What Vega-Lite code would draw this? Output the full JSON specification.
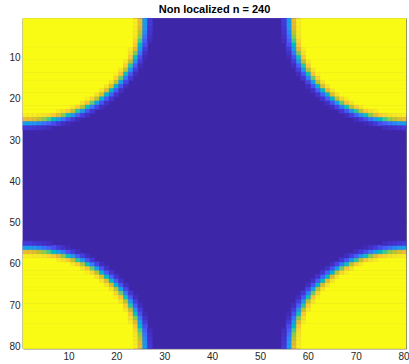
{
"$schema": "https://vega.github.io/schema/vega-lite/v6.json",
"width": 383,
"height": 330,
"autosize": "none",
"padding": {"left": 23, "top": 18.5, "right": 3, "bottom": 15.5},
"background": "white",
"title": {"text": "Non localized n = 240", "font": "Liberation Sans", "fontSize": 11, "fontWeight": "bold", "color": "#000000", "offset": 3, "anchor": "middle", "frame": "group"},
"config": {"view": {"stroke": null}},
"resolve": {"axis": {"x": "independent", "y": "independent"}},
"layer": [
{
"data": {"values": [
{"x1":0.5,"x2":80.5,"y1":0.5,"y2":80.5,"v":0},
{"x1":0.5,"x2":23.5,"y1":0.5,"y2":7.5,"v":1},{"x1":58.5,"x2":80.5,"y1":0.5,"y2":7.5,"v":1},
{"x1":0.5,"x2":22.5,"y1":7.5,"y2":10.5,"v":1},{"x1":59.5,"x2":80.5,"y1":7.5,"y2":10.5,"v":1},
{"x1":0.5,"x2":21.5,"y1":10.5,"y2":12.5,"v":1},{"x1":60.5,"x2":80.5,"y1":10.5,"y2":12.5,"v":1},
{"x1":0.5,"x2":20.5,"y1":12.5,"y2":13.5,"v":1},{"x1":61.5,"x2":80.5,"y1":12.5,"y2":13.5,"v":1},
{"x1":0.5,"x2":19.5,"y1":13.5,"y2":15.5,"v":1},{"x1":62.5,"x2":80.5,"y1":13.5,"y2":15.5,"v":1},
{"x1":0.5,"x2":18.5,"y1":15.5,"y2":16.5,"v":1},{"x1":63.5,"x2":80.5,"y1":15.5,"y2":16.5,"v":1},
{"x1":0.5,"x2":17.5,"y1":16.5,"y2":17.5,"v":1},{"x1":64.5,"x2":80.5,"y1":16.5,"y2":17.5,"v":1},
{"x1":0.5,"x2":16.5,"y1":17.5,"y2":18.5,"v":1},{"x1":65.5,"x2":80.5,"y1":17.5,"y2":18.5,"v":1},
{"x1":0.5,"x2":15.5,"y1":18.5,"y2":19.5,"v":1},{"x1":66.5,"x2":80.5,"y1":18.5,"y2":19.5,"v":1},
{"x1":0.5,"x2":13.5,"y1":19.5,"y2":20.5,"v":1},{"x1":68.5,"x2":80.5,"y1":19.5,"y2":20.5,"v":1},
{"x1":0.5,"x2":12.5,"y1":20.5,"y2":21.5,"v":1},{"x1":69.5,"x2":80.5,"y1":20.5,"y2":21.5,"v":1},
{"x1":0.5,"x2":10.5,"y1":21.5,"y2":22.5,"v":1},{"x1":71.5,"x2":80.5,"y1":21.5,"y2":22.5,"v":1},
{"x1":0.5,"x2":7.5,"y1":22.5,"y2":23.5,"v":1},{"x1":74.5,"x2":80.5,"y1":22.5,"y2":23.5,"v":1},
{"x1":0.5,"x2":23.5,"y1":74.5,"y2":80.5,"v":1},{"x1":58.5,"x2":80.5,"y1":74.5,"y2":80.5,"v":1},
{"x1":0.5,"x2":22.5,"y1":71.5,"y2":74.5,"v":1},{"x1":59.5,"x2":80.5,"y1":71.5,"y2":74.5,"v":1},
{"x1":0.5,"x2":21.5,"y1":69.5,"y2":71.5,"v":1},{"x1":60.5,"x2":80.5,"y1":69.5,"y2":71.5,"v":1},
{"x1":0.5,"x2":20.5,"y1":68.5,"y2":69.5,"v":1},{"x1":61.5,"x2":80.5,"y1":68.5,"y2":69.5,"v":1},
{"x1":0.5,"x2":19.5,"y1":66.5,"y2":68.5,"v":1},{"x1":62.5,"x2":80.5,"y1":66.5,"y2":68.5,"v":1},
{"x1":0.5,"x2":18.5,"y1":65.5,"y2":66.5,"v":1},{"x1":63.5,"x2":80.5,"y1":65.5,"y2":66.5,"v":1},
{"x1":0.5,"x2":17.5,"y1":64.5,"y2":65.5,"v":1},{"x1":64.5,"x2":80.5,"y1":64.5,"y2":65.5,"v":1},
{"x1":0.5,"x2":16.5,"y1":63.5,"y2":64.5,"v":1},{"x1":65.5,"x2":80.5,"y1":63.5,"y2":64.5,"v":1},
{"x1":0.5,"x2":15.5,"y1":62.5,"y2":63.5,"v":1},{"x1":66.5,"x2":80.5,"y1":62.5,"y2":63.5,"v":1},
{"x1":0.5,"x2":13.5,"y1":61.5,"y2":62.5,"v":1},{"x1":68.5,"x2":80.5,"y1":61.5,"y2":62.5,"v":1},
{"x1":0.5,"x2":12.5,"y1":60.5,"y2":61.5,"v":1},{"x1":69.5,"x2":80.5,"y1":60.5,"y2":61.5,"v":1},
{"x1":0.5,"x2":10.5,"y1":59.5,"y2":60.5,"v":1},{"x1":71.5,"x2":80.5,"y1":59.5,"y2":60.5,"v":1},
{"x1":0.5,"x2":7.5,"y1":58.5,"y2":59.5,"v":1},{"x1":74.5,"x2":80.5,"y1":58.5,"y2":59.5,"v":1}
]},
"mark": {"type": "rect", "strokeWidth": 0.8},
"encoding": {
"x": {"field": "x1", "type": "quantitative", "scale": {"domain": [0.5, 80.5], "nice": false, "zero": false},
 "axis": {"orient": "bottom", "title": null, "values": [10,20,30,40,50,60,70,80], "grid": false, "tickSize": -4, "tickWidth": 0.6, "tickColor": "#262626", "domainColor": "#262626", "domainWidth": 0.6, "labelFont": "Liberation Sans", "labelFontSize": 10, "labelColor": "#262626", "labelPadding": 7}},
"x2": {"field": "x2"},
"y": {"field": "y1", "type": "quantitative", "scale": {"domain": [0.5, 80.5], "nice": false, "zero": false, "reverse": true},
 "axis": {"orient": "left", "title": null, "values": [10,20,30,40,50,60,70,80], "grid": false, "tickSize": -4, "tickWidth": 0.6, "tickColor": "#262626", "domainColor": "#262626", "domainWidth": 0.6, "labelFont": "Liberation Sans", "labelFontSize": 10, "labelColor": "#262626", "labelPadding": 7}},
"y2": {"field": "y2"},
"color": {"field": "v", "type": "quantitative", "legend": null, "scale": {"domain": [0,0.0625,0.125,0.1875,0.25,0.3125,0.375,0.4375,0.5,0.5625,0.625,0.6875,0.75,0.8125,0.875,0.9375,1], "range": ["#3E26A8","#4537D5","#484DF0","#4563FD","#327CFC","#2B91EF","#20A5E3","#08B5D0","#12BEB9","#34C79C","#5CCC76","#93CA4A","#C8C129","#F1BA37","#FEC934","#F5E327","#F9FB15"]}},
"stroke": {"field": "v", "type": "quantitative", "legend": null, "scale": {"domain": [0,0.0625,0.125,0.1875,0.25,0.3125,0.375,0.4375,0.5,0.5625,0.625,0.6875,0.75,0.8125,0.875,0.9375,1], "range": ["#3E26A8","#4537D5","#484DF0","#4563FD","#327CFC","#2B91EF","#20A5E3","#08B5D0","#12BEB9","#34C79C","#5CCC76","#93CA4A","#C8C129","#F1BA37","#FEC934","#F5E327","#F9FB15"]}}
}
},
{
"data": {"values": [
{"c":24,"r":1,"v":0.97},{"c":25,"r":1,"v":0.80},{"c":26,"r":1,"v":0.35},{"c":27,"r":1,"v":0.07},
{"c":24,"r":2,"v":0.97},{"c":25,"r":2,"v":0.80},{"c":26,"r":2,"v":0.35},{"c":27,"r":2,"v":0.07},
{"c":24,"r":3,"v":0.96},{"c":25,"r":3,"v":0.78},{"c":26,"r":3,"v":0.32},{"c":27,"r":3,"v":0.06},
{"c":24,"r":4,"v":0.95},{"c":25,"r":4,"v":0.73},{"c":26,"r":4,"v":0.28},{"c":27,"r":4,"v":0.05},
{"c":24,"r":5,"v":0.94},{"c":25,"r":5,"v":0.68},{"c":26,"r":5,"v":0.22},{"c":27,"r":5,"v":0.04},
{"c":24,"r":6,"v":0.91},{"c":25,"r":6,"v":0.59},{"c":26,"r":6,"v":0.17},{"c":27,"r":6,"v":0.03},
{"c":24,"r":7,"v":0.87},{"c":25,"r":7,"v":0.48},{"c":26,"r":7,"v":0.12},
{"c":23,"r":8,"v":0.96},{"c":24,"r":8,"v":0.79},{"c":25,"r":8,"v":0.35},{"c":26,"r":8,"v":0.07},
{"c":23,"r":9,"v":0.93},{"c":24,"r":9,"v":0.67},{"c":25,"r":9,"v":0.23},{"c":26,"r":9,"v":0.04},
{"c":23,"r":10,"v":0.87},{"c":24,"r":10,"v":0.50},{"c":25,"r":10,"v":0.13},{"c":26,"r":10,"v":0.02},
{"c":22,"r":11,"v":0.95},{"c":23,"r":11,"v":0.74},{"c":24,"r":11,"v":0.32},{"c":25,"r":11,"v":0.07},
{"c":22,"r":12,"v":0.88},{"c":23,"r":12,"v":0.55},{"c":24,"r":12,"v":0.17},{"c":25,"r":12,"v":0.03},
{"c":21,"r":13,"v":0.94},{"c":22,"r":13,"v":0.73},{"c":23,"r":13,"v":0.33},{"c":24,"r":13,"v":0.08},
{"c":20,"r":14,"v":0.97},{"c":21,"r":14,"v":0.85},{"c":22,"r":14,"v":0.50},{"c":23,"r":14,"v":0.15},{"c":24,"r":14,"v":0.03},
{"c":20,"r":15,"v":0.90},{"c":21,"r":15,"v":0.64},{"c":22,"r":15,"v":0.25},{"c":23,"r":15,"v":0.06},
{"c":19,"r":16,"v":0.93},{"c":20,"r":16,"v":0.73},{"c":21,"r":16,"v":0.35},{"c":22,"r":16,"v":0.10},
{"c":18,"r":17,"v":0.94},{"c":19,"r":17,"v":0.78},{"c":20,"r":17,"v":0.43},{"c":21,"r":17,"v":0.14},{"c":22,"r":17,"v":0.03},
{"c":17,"r":18,"v":0.94},{"c":18,"r":18,"v":0.79},{"c":19,"r":18,"v":0.47},{"c":20,"r":18,"v":0.17},{"c":21,"r":18,"v":0.04},
{"c":16,"r":19,"v":0.93},{"c":17,"r":19,"v":0.78},{"c":18,"r":19,"v":0.47},{"c":19,"r":19,"v":0.18},{"c":20,"r":19,"v":0.05},
{"c":14,"r":20,"v":0.97},{"c":15,"r":20,"v":0.90},{"c":16,"r":20,"v":0.73},{"c":17,"r":20,"v":0.43},{"c":18,"r":20,"v":0.17},{"c":19,"r":20,"v":0.05},
{"c":13,"r":21,"v":0.94},{"c":14,"r":21,"v":0.85},{"c":15,"r":21,"v":0.64},{"c":16,"r":21,"v":0.35},{"c":17,"r":21,"v":0.14},{"c":18,"r":21,"v":0.04},
{"c":11,"r":22,"v":0.95},{"c":12,"r":22,"v":0.88},{"c":13,"r":22,"v":0.73},{"c":14,"r":22,"v":0.50},{"c":15,"r":22,"v":0.25},{"c":16,"r":22,"v":0.10},{"c":17,"r":22,"v":0.03},
{"c":8,"r":23,"v":0.96},{"c":9,"r":23,"v":0.93},{"c":10,"r":23,"v":0.87},{"c":11,"r":23,"v":0.74},{"c":12,"r":23,"v":0.55},{"c":13,"r":23,"v":0.33},{"c":14,"r":23,"v":0.15},{"c":15,"r":23,"v":0.06},
{"c":1,"r":24,"v":0.97},{"c":2,"r":24,"v":0.97},{"c":3,"r":24,"v":0.96},{"c":4,"r":24,"v":0.95},{"c":5,"r":24,"v":0.94},{"c":6,"r":24,"v":0.91},{"c":7,"r":24,"v":0.87},{"c":8,"r":24,"v":0.79},{"c":9,"r":24,"v":0.67},{"c":10,"r":24,"v":0.50},{"c":11,"r":24,"v":0.32},{"c":12,"r":24,"v":0.17},{"c":13,"r":24,"v":0.08},{"c":14,"r":24,"v":0.03},
{"c":1,"r":25,"v":0.80},{"c":2,"r":25,"v":0.80},{"c":3,"r":25,"v":0.78},{"c":4,"r":25,"v":0.73},{"c":5,"r":25,"v":0.68},{"c":6,"r":25,"v":0.59},{"c":7,"r":25,"v":0.48},{"c":8,"r":25,"v":0.35},{"c":9,"r":25,"v":0.23},{"c":10,"r":25,"v":0.13},{"c":11,"r":25,"v":0.07},{"c":12,"r":25,"v":0.03},
{"c":1,"r":26,"v":0.35},{"c":2,"r":26,"v":0.35},{"c":3,"r":26,"v":0.32},{"c":4,"r":26,"v":0.28},{"c":5,"r":26,"v":0.22},{"c":6,"r":26,"v":0.17},{"c":7,"r":26,"v":0.12},{"c":8,"r":26,"v":0.07},{"c":9,"r":26,"v":0.04},{"c":10,"r":26,"v":0.02},
{"c":1,"r":27,"v":0.07},{"c":2,"r":27,"v":0.07},{"c":3,"r":27,"v":0.06},{"c":4,"r":27,"v":0.05},{"c":5,"r":27,"v":0.04},{"c":6,"r":27,"v":0.03},

{"c":58,"r":1,"v":0.97},{"c":57,"r":1,"v":0.80},{"c":56,"r":1,"v":0.35},{"c":55,"r":1,"v":0.07},
{"c":58,"r":2,"v":0.97},{"c":57,"r":2,"v":0.80},{"c":56,"r":2,"v":0.35},{"c":55,"r":2,"v":0.07},
{"c":58,"r":3,"v":0.96},{"c":57,"r":3,"v":0.78},{"c":56,"r":3,"v":0.32},{"c":55,"r":3,"v":0.06},
{"c":58,"r":4,"v":0.95},{"c":57,"r":4,"v":0.73},{"c":56,"r":4,"v":0.28},{"c":55,"r":4,"v":0.05},
{"c":58,"r":5,"v":0.94},{"c":57,"r":5,"v":0.68},{"c":56,"r":5,"v":0.22},{"c":55,"r":5,"v":0.04},
{"c":58,"r":6,"v":0.91},{"c":57,"r":6,"v":0.59},{"c":56,"r":6,"v":0.17},{"c":55,"r":6,"v":0.03},
{"c":58,"r":7,"v":0.87},{"c":57,"r":7,"v":0.48},{"c":56,"r":7,"v":0.12},
{"c":59,"r":8,"v":0.96},{"c":58,"r":8,"v":0.79},{"c":57,"r":8,"v":0.35},{"c":56,"r":8,"v":0.07},
{"c":59,"r":9,"v":0.93},{"c":58,"r":9,"v":0.67},{"c":57,"r":9,"v":0.23},{"c":56,"r":9,"v":0.04},
{"c":59,"r":10,"v":0.87},{"c":58,"r":10,"v":0.50},{"c":57,"r":10,"v":0.13},{"c":56,"r":10,"v":0.02},
{"c":60,"r":11,"v":0.95},{"c":59,"r":11,"v":0.74},{"c":58,"r":11,"v":0.32},{"c":57,"r":11,"v":0.07},
{"c":60,"r":12,"v":0.88},{"c":59,"r":12,"v":0.55},{"c":58,"r":12,"v":0.17},{"c":57,"r":12,"v":0.03},
{"c":61,"r":13,"v":0.94},{"c":60,"r":13,"v":0.73},{"c":59,"r":13,"v":0.33},{"c":58,"r":13,"v":0.08},
{"c":62,"r":14,"v":0.97},{"c":61,"r":14,"v":0.85},{"c":60,"r":14,"v":0.50},{"c":59,"r":14,"v":0.15},{"c":58,"r":14,"v":0.03},
{"c":62,"r":15,"v":0.90},{"c":61,"r":15,"v":0.64},{"c":60,"r":15,"v":0.25},{"c":59,"r":15,"v":0.06},
{"c":63,"r":16,"v":0.93},{"c":62,"r":16,"v":0.73},{"c":61,"r":16,"v":0.35},{"c":60,"r":16,"v":0.10},
{"c":64,"r":17,"v":0.94},{"c":63,"r":17,"v":0.78},{"c":62,"r":17,"v":0.43},{"c":61,"r":17,"v":0.14},{"c":60,"r":17,"v":0.03},
{"c":65,"r":18,"v":0.94},{"c":64,"r":18,"v":0.79},{"c":63,"r":18,"v":0.47},{"c":62,"r":18,"v":0.17},{"c":61,"r":18,"v":0.04},
{"c":66,"r":19,"v":0.93},{"c":65,"r":19,"v":0.78},{"c":64,"r":19,"v":0.47},{"c":63,"r":19,"v":0.18},{"c":62,"r":19,"v":0.05},
{"c":68,"r":20,"v":0.97},{"c":67,"r":20,"v":0.90},{"c":66,"r":20,"v":0.73},{"c":65,"r":20,"v":0.43},{"c":64,"r":20,"v":0.17},{"c":63,"r":20,"v":0.05},
{"c":69,"r":21,"v":0.94},{"c":68,"r":21,"v":0.85},{"c":67,"r":21,"v":0.64},{"c":66,"r":21,"v":0.35},{"c":65,"r":21,"v":0.14},{"c":64,"r":21,"v":0.04},
{"c":71,"r":22,"v":0.95},{"c":70,"r":22,"v":0.88},{"c":69,"r":22,"v":0.73},{"c":68,"r":22,"v":0.50},{"c":67,"r":22,"v":0.25},{"c":66,"r":22,"v":0.10},{"c":65,"r":22,"v":0.03},
{"c":74,"r":23,"v":0.96},{"c":73,"r":23,"v":0.93},{"c":72,"r":23,"v":0.87},{"c":71,"r":23,"v":0.74},{"c":70,"r":23,"v":0.55},{"c":69,"r":23,"v":0.33},{"c":68,"r":23,"v":0.15},{"c":67,"r":23,"v":0.06},
{"c":80,"r":24,"v":0.97},{"c":79,"r":24,"v":0.96},{"c":78,"r":24,"v":0.95},{"c":77,"r":24,"v":0.94},{"c":76,"r":24,"v":0.91},{"c":75,"r":24,"v":0.87},{"c":74,"r":24,"v":0.79},{"c":73,"r":24,"v":0.67},{"c":72,"r":24,"v":0.50},{"c":71,"r":24,"v":0.32},{"c":70,"r":24,"v":0.17},{"c":69,"r":24,"v":0.08},{"c":68,"r":24,"v":0.03},
{"c":80,"r":25,"v":0.80},{"c":79,"r":25,"v":0.78},{"c":78,"r":25,"v":0.73},{"c":77,"r":25,"v":0.68},{"c":76,"r":25,"v":0.59},{"c":75,"r":25,"v":0.48},{"c":74,"r":25,"v":0.35},{"c":73,"r":25,"v":0.23},{"c":72,"r":25,"v":0.13},{"c":71,"r":25,"v":0.07},{"c":70,"r":25,"v":0.03},
{"c":80,"r":26,"v":0.35},{"c":79,"r":26,"v":0.32},{"c":78,"r":26,"v":0.28},{"c":77,"r":26,"v":0.22},{"c":76,"r":26,"v":0.17},{"c":75,"r":26,"v":0.12},{"c":74,"r":26,"v":0.07},{"c":73,"r":26,"v":0.04},{"c":72,"r":26,"v":0.02},
{"c":80,"r":27,"v":0.07},{"c":79,"r":27,"v":0.06},{"c":78,"r":27,"v":0.05},{"c":77,"r":27,"v":0.04},{"c":76,"r":27,"v":0.03},

{"c":24,"r":80,"v":0.97},{"c":25,"r":80,"v":0.80},{"c":26,"r":80,"v":0.35},{"c":27,"r":80,"v":0.07},
{"c":24,"r":79,"v":0.96},{"c":25,"r":79,"v":0.78},{"c":26,"r":79,"v":0.32},{"c":27,"r":79,"v":0.06},
{"c":24,"r":78,"v":0.95},{"c":25,"r":78,"v":0.73},{"c":26,"r":78,"v":0.28},{"c":27,"r":78,"v":0.05},
{"c":24,"r":77,"v":0.94},{"c":25,"r":77,"v":0.68},{"c":26,"r":77,"v":0.22},{"c":27,"r":77,"v":0.04},
{"c":24,"r":76,"v":0.91},{"c":25,"r":76,"v":0.59},{"c":26,"r":76,"v":0.17},{"c":27,"r":76,"v":0.03},
{"c":24,"r":75,"v":0.87},{"c":25,"r":75,"v":0.48},{"c":26,"r":75,"v":0.12},
{"c":23,"r":74,"v":0.96},{"c":24,"r":74,"v":0.79},{"c":25,"r":74,"v":0.35},{"c":26,"r":74,"v":0.07},
{"c":23,"r":73,"v":0.93},{"c":24,"r":73,"v":0.67},{"c":25,"r":73,"v":0.23},{"c":26,"r":73,"v":0.04},
{"c":23,"r":72,"v":0.87},{"c":24,"r":72,"v":0.50},{"c":25,"r":72,"v":0.13},{"c":26,"r":72,"v":0.02},
{"c":22,"r":71,"v":0.95},{"c":23,"r":71,"v":0.74},{"c":24,"r":71,"v":0.32},{"c":25,"r":71,"v":0.07},
{"c":22,"r":70,"v":0.88},{"c":23,"r":70,"v":0.55},{"c":24,"r":70,"v":0.17},{"c":25,"r":70,"v":0.03},
{"c":21,"r":69,"v":0.94},{"c":22,"r":69,"v":0.73},{"c":23,"r":69,"v":0.33},{"c":24,"r":69,"v":0.08},
{"c":20,"r":68,"v":0.97},{"c":21,"r":68,"v":0.85},{"c":22,"r":68,"v":0.50},{"c":23,"r":68,"v":0.15},{"c":24,"r":68,"v":0.03},
{"c":20,"r":67,"v":0.90},{"c":21,"r":67,"v":0.64},{"c":22,"r":67,"v":0.25},{"c":23,"r":67,"v":0.06},
{"c":19,"r":66,"v":0.93},{"c":20,"r":66,"v":0.73},{"c":21,"r":66,"v":0.35},{"c":22,"r":66,"v":0.10},
{"c":18,"r":65,"v":0.94},{"c":19,"r":65,"v":0.78},{"c":20,"r":65,"v":0.43},{"c":21,"r":65,"v":0.14},{"c":22,"r":65,"v":0.03},
{"c":17,"r":64,"v":0.94},{"c":18,"r":64,"v":0.79},{"c":19,"r":64,"v":0.47},{"c":20,"r":64,"v":0.17},{"c":21,"r":64,"v":0.04},
{"c":16,"r":63,"v":0.93},{"c":17,"r":63,"v":0.78},{"c":18,"r":63,"v":0.47},{"c":19,"r":63,"v":0.18},{"c":20,"r":63,"v":0.05},
{"c":14,"r":62,"v":0.97},{"c":15,"r":62,"v":0.90},{"c":16,"r":62,"v":0.73},{"c":17,"r":62,"v":0.43},{"c":18,"r":62,"v":0.17},{"c":19,"r":62,"v":0.05},
{"c":13,"r":61,"v":0.94},{"c":14,"r":61,"v":0.85},{"c":15,"r":61,"v":0.64},{"c":16,"r":61,"v":0.35},{"c":17,"r":61,"v":0.14},{"c":18,"r":61,"v":0.04},
{"c":11,"r":60,"v":0.95},{"c":12,"r":60,"v":0.88},{"c":13,"r":60,"v":0.73},{"c":14,"r":60,"v":0.50},{"c":15,"r":60,"v":0.25},{"c":16,"r":60,"v":0.10},{"c":17,"r":60,"v":0.03},
{"c":8,"r":59,"v":0.96},{"c":9,"r":59,"v":0.93},{"c":10,"r":59,"v":0.87},{"c":11,"r":59,"v":0.74},{"c":12,"r":59,"v":0.55},{"c":13,"r":59,"v":0.33},{"c":14,"r":59,"v":0.15},{"c":15,"r":59,"v":0.06},
{"c":1,"r":58,"v":0.97},{"c":2,"r":58,"v":0.97},{"c":3,"r":58,"v":0.96},{"c":4,"r":58,"v":0.95},{"c":5,"r":58,"v":0.94},{"c":6,"r":58,"v":0.91},{"c":7,"r":58,"v":0.87},{"c":8,"r":58,"v":0.79},{"c":9,"r":58,"v":0.67},{"c":10,"r":58,"v":0.50},{"c":11,"r":58,"v":0.32},{"c":12,"r":58,"v":0.17},{"c":13,"r":58,"v":0.08},{"c":14,"r":58,"v":0.03},
{"c":1,"r":57,"v":0.80},{"c":2,"r":57,"v":0.80},{"c":3,"r":57,"v":0.78},{"c":4,"r":57,"v":0.73},{"c":5,"r":57,"v":0.68},{"c":6,"r":57,"v":0.59},{"c":7,"r":57,"v":0.48},{"c":8,"r":57,"v":0.35},{"c":9,"r":57,"v":0.23},{"c":10,"r":57,"v":0.13},{"c":11,"r":57,"v":0.07},{"c":12,"r":57,"v":0.03},
{"c":1,"r":56,"v":0.35},{"c":2,"r":56,"v":0.35},{"c":3,"r":56,"v":0.32},{"c":4,"r":56,"v":0.28},{"c":5,"r":56,"v":0.22},{"c":6,"r":56,"v":0.17},{"c":7,"r":56,"v":0.12},{"c":8,"r":56,"v":0.07},{"c":9,"r":56,"v":0.04},{"c":10,"r":56,"v":0.02},
{"c":1,"r":55,"v":0.07},{"c":2,"r":55,"v":0.07},{"c":3,"r":55,"v":0.06},{"c":4,"r":55,"v":0.05},{"c":5,"r":55,"v":0.04},{"c":6,"r":55,"v":0.03},

{"c":58,"r":80,"v":0.97},{"c":57,"r":80,"v":0.80},{"c":56,"r":80,"v":0.35},{"c":55,"r":80,"v":0.07},
{"c":58,"r":79,"v":0.96},{"c":57,"r":79,"v":0.78},{"c":56,"r":79,"v":0.32},{"c":55,"r":79,"v":0.06},
{"c":58,"r":78,"v":0.95},{"c":57,"r":78,"v":0.73},{"c":56,"r":78,"v":0.28},{"c":55,"r":78,"v":0.05},
{"c":58,"r":77,"v":0.94},{"c":57,"r":77,"v":0.68},{"c":56,"r":77,"v":0.22},{"c":55,"r":77,"v":0.04},
{"c":58,"r":76,"v":0.91},{"c":57,"r":76,"v":0.59},{"c":56,"r":76,"v":0.17},{"c":55,"r":76,"v":0.03},
{"c":58,"r":75,"v":0.87},{"c":57,"r":75,"v":0.48},{"c":56,"r":75,"v":0.12},
{"c":59,"r":74,"v":0.96},{"c":58,"r":74,"v":0.79},{"c":57,"r":74,"v":0.35},{"c":56,"r":74,"v":0.07},
{"c":59,"r":73,"v":0.93},{"c":58,"r":73,"v":0.67},{"c":57,"r":73,"v":0.23},{"c":56,"r":73,"v":0.04},
{"c":59,"r":72,"v":0.87},{"c":58,"r":72,"v":0.50},{"c":57,"r":72,"v":0.13},{"c":56,"r":72,"v":0.02},
{"c":60,"r":71,"v":0.95},{"c":59,"r":71,"v":0.74},{"c":58,"r":71,"v":0.32},{"c":57,"r":71,"v":0.07},
{"c":60,"r":70,"v":0.88},{"c":59,"r":70,"v":0.55},{"c":58,"r":70,"v":0.17},{"c":57,"r":70,"v":0.03},
{"c":61,"r":69,"v":0.94},{"c":60,"r":69,"v":0.73},{"c":59,"r":69,"v":0.33},{"c":58,"r":69,"v":0.08},
{"c":62,"r":68,"v":0.97},{"c":61,"r":68,"v":0.85},{"c":60,"r":68,"v":0.50},{"c":59,"r":68,"v":0.15},{"c":58,"r":68,"v":0.03},
{"c":62,"r":67,"v":0.90},{"c":61,"r":67,"v":0.64},{"c":60,"r":67,"v":0.25},{"c":59,"r":67,"v":0.06},
{"c":63,"r":66,"v":0.93},{"c":62,"r":66,"v":0.73},{"c":61,"r":66,"v":0.35},{"c":60,"r":66,"v":0.10},
{"c":64,"r":65,"v":0.94},{"c":63,"r":65,"v":0.78},{"c":62,"r":65,"v":0.43},{"c":61,"r":65,"v":0.14},{"c":60,"r":65,"v":0.03},
{"c":65,"r":64,"v":0.94},{"c":64,"r":64,"v":0.79},{"c":63,"r":64,"v":0.47},{"c":62,"r":64,"v":0.17},{"c":61,"r":64,"v":0.04},
{"c":66,"r":63,"v":0.93},{"c":65,"r":63,"v":0.78},{"c":64,"r":63,"v":0.47},{"c":63,"r":63,"v":0.18},{"c":62,"r":63,"v":0.05},
{"c":68,"r":62,"v":0.97},{"c":67,"r":62,"v":0.90},{"c":66,"r":62,"v":0.73},{"c":65,"r":62,"v":0.43},{"c":64,"r":62,"v":0.17},{"c":63,"r":62,"v":0.05},
{"c":69,"r":61,"v":0.94},{"c":68,"r":61,"v":0.85},{"c":67,"r":61,"v":0.64},{"c":66,"r":61,"v":0.35},{"c":65,"r":61,"v":0.14},{"c":64,"r":61,"v":0.04},
{"c":71,"r":60,"v":0.95},{"c":70,"r":60,"v":0.88},{"c":69,"r":60,"v":0.73},{"c":68,"r":60,"v":0.50},{"c":67,"r":60,"v":0.25},{"c":66,"r":60,"v":0.10},{"c":65,"r":60,"v":0.03},
{"c":74,"r":59,"v":0.96},{"c":73,"r":59,"v":0.93},{"c":72,"r":59,"v":0.87},{"c":71,"r":59,"v":0.74},{"c":70,"r":59,"v":0.55},{"c":69,"r":59,"v":0.33},{"c":68,"r":59,"v":0.15},{"c":67,"r":59,"v":0.06},
{"c":80,"r":58,"v":0.97},{"c":79,"r":58,"v":0.96},{"c":78,"r":58,"v":0.95},{"c":77,"r":58,"v":0.94},{"c":76,"r":58,"v":0.91},{"c":75,"r":58,"v":0.87},{"c":74,"r":58,"v":0.79},{"c":73,"r":58,"v":0.67},{"c":72,"r":58,"v":0.50},{"c":71,"r":58,"v":0.32},{"c":70,"r":58,"v":0.17},{"c":69,"r":58,"v":0.08},{"c":68,"r":58,"v":0.03},
{"c":80,"r":57,"v":0.80},{"c":79,"r":57,"v":0.78},{"c":78,"r":57,"v":0.73},{"c":77,"r":57,"v":0.68},{"c":76,"r":57,"v":0.59},{"c":75,"r":57,"v":0.48},{"c":74,"r":57,"v":0.35},{"c":73,"r":57,"v":0.23},{"c":72,"r":57,"v":0.13},{"c":71,"r":57,"v":0.07},{"c":70,"r":57,"v":0.03},
{"c":80,"r":56,"v":0.35},{"c":79,"r":56,"v":0.32},{"c":78,"r":56,"v":0.28},{"c":77,"r":56,"v":0.22},{"c":76,"r":56,"v":0.17},{"c":75,"r":56,"v":0.12},{"c":74,"r":56,"v":0.07},{"c":73,"r":56,"v":0.04},{"c":72,"r":56,"v":0.02},
{"c":80,"r":55,"v":0.07},{"c":79,"r":55,"v":0.06},{"c":78,"r":55,"v":0.05},{"c":77,"r":55,"v":0.04},{"c":76,"r":55,"v":0.03}
]},
"mark": {"type": "rect", "width": 4.9, "height": 4.25, "strokeWidth": 0.5},
"encoding": {
"x": {"field": "c", "type": "quantitative", "scale": {"domain": [0.5, 80.5], "nice": false, "zero": false},
 "axis": {"orient": "top", "title": null, "values": [10,20,30,40,50,60,70,80], "grid": false, "labels": false, "tickSize": -4, "tickWidth": 0.6, "tickColor": "#262626", "domainColor": "#262626", "domainWidth": 0.6}},
"y": {"field": "r", "type": "quantitative", "scale": {"domain": [0.5, 80.5], "nice": false, "zero": false, "reverse": true},
 "axis": {"orient": "right", "title": null, "values": [10,20,30,40,50,60,70,80], "grid": false, "labels": false, "tickSize": -4, "tickWidth": 0.6, "tickColor": "#262626", "domainColor": "#262626", "domainWidth": 0.6}},
"color": {"field": "v", "type": "quantitative", "legend": null, "scale": {"domain": [0,0.0625,0.125,0.1875,0.25,0.3125,0.375,0.4375,0.5,0.5625,0.625,0.6875,0.75,0.8125,0.875,0.9375,1], "range": ["#3E26A8","#4537D5","#484DF0","#4563FD","#327CFC","#2B91EF","#20A5E3","#08B5D0","#12BEB9","#34C79C","#5CCC76","#93CA4A","#C8C129","#F1BA37","#FEC934","#F5E327","#F9FB15"]}},
"stroke": {"field": "v", "type": "quantitative", "legend": null, "scale": {"domain": [0,0.0625,0.125,0.1875,0.25,0.3125,0.375,0.4375,0.5,0.5625,0.625,0.6875,0.75,0.8125,0.875,0.9375,1], "range": ["#3E26A8","#4537D5","#484DF0","#4563FD","#327CFC","#2B91EF","#20A5E3","#08B5D0","#12BEB9","#34C79C","#5CCC76","#93CA4A","#C8C129","#F1BA37","#FEC934","#F5E327","#F9FB15"]}}
}
}
]
}
